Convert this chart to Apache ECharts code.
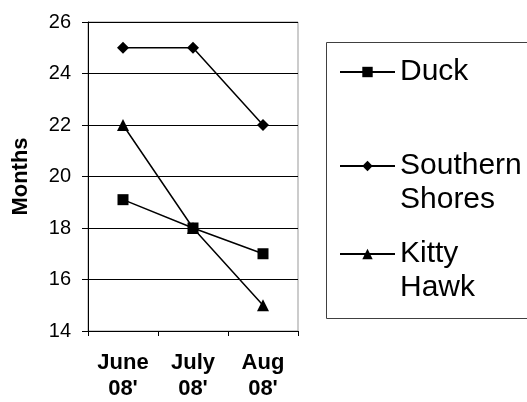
<!DOCTYPE html>
<html>
<head>
<meta charset="utf-8">
<script src="https://cdn.jsdelivr.net/npm/echarts@6/dist/echarts.min.js"></script>
<style>
html,body{margin:0;padding:0;background:#fff;}
#chart{width:527px;height:402px;}
</style>
</head>
<body>
<div id="chart"></div>
<script>
const categories = ["June\n08'", "July\n08'", "Aug\n08'"];
const seriesNames = ["Duck", "Southern Shores", "Kitty Hawk"];
const legendLabels = ["Duck", "\nSouthern\nShores", "\nKitty\nHawk"];
const duck = [19.1, 18, 17];
const southernShores = [25, 25, 22];
const kittyHawk = [22, 18, 15];
const yMin = 14, yMax = 26, yStep = 2;
const yAxisTitle = "Months";

const FONT = "'Liberation Sans', Arial, sans-serif";
const chart = echarts.init(document.getElementById('chart'), null, {renderer: 'canvas'});

const symbols = ['rect', 'diamond', 'triangle'];
const values = [duck, southernShores, kittyHawk];
const legendTops = [55, 115, 203];

const legends = seriesNames.map((n, i) => ({
  data: [n],
  orient: 'vertical',
  left: 339,
  top: legendTops[i],
  padding: 0,
  itemWidth: 55,
  itemHeight: 13,
  selectedMode: false,
  formatter: () => legendLabels[i],
  textStyle: {fontFamily: FONT, fontSize: 30, lineHeight: 34, color: '#000'}
}));

chart.setOption({
  animation: false,
  textStyle: {fontFamily: FONT},
  grid: {left: 88, top: 22, width: 210, height: 309, containLabel: false,
         show: true, borderColor: '#999', borderWidth: 1, backgroundColor: 'transparent'},
  legend: legends,
  graphic: [{
    type: 'rect', shape: {x: 326.5, y: 42.5, width: 260, height: 276},
    style: {fill: 'none', stroke: '#404040', lineWidth: 1}, silent: true
  }],
  xAxis: {
    type: 'category', data: categories, boundaryGap: true,
    axisLine: {lineStyle: {color: '#000', width: 1}},
    axisTick: {show: true, length: 5, lineStyle: {color: '#000'}},
    axisLabel: {fontFamily: FONT, fontSize: 22, fontWeight: 'bold', lineHeight: 26, color: '#000', margin: 19}
  },
  yAxis: {
    type: 'value', min: yMin, max: yMax, interval: yStep,
    name: yAxisTitle, nameLocation: 'middle', nameRotate: 90, nameGap: 56,
    nameTextStyle: {fontFamily: FONT, fontSize: 22, fontWeight: 'bold', color: '#000'},
    axisLine: {show: true, lineStyle: {color: '#000', width: 1}},
    axisTick: {show: true, length: 6, lineStyle: {color: '#000'}},
    axisLabel: {fontFamily: FONT, fontSize: 20, color: '#000', margin: 17},
    splitLine: {show: true, lineStyle: {color: '#000', width: 1}}
  },
  series: seriesNames.map((n, i) => ({
    name: n, type: 'line', data: values[i],
    symbol: symbols[i], symbolSize: i === 0 ? 11 : 12,
    color: '#000',
    lineStyle: {color: '#000', width: 1.5},
    itemStyle: {color: '#000'}
  }))
});
</script>
</body>
</html>
